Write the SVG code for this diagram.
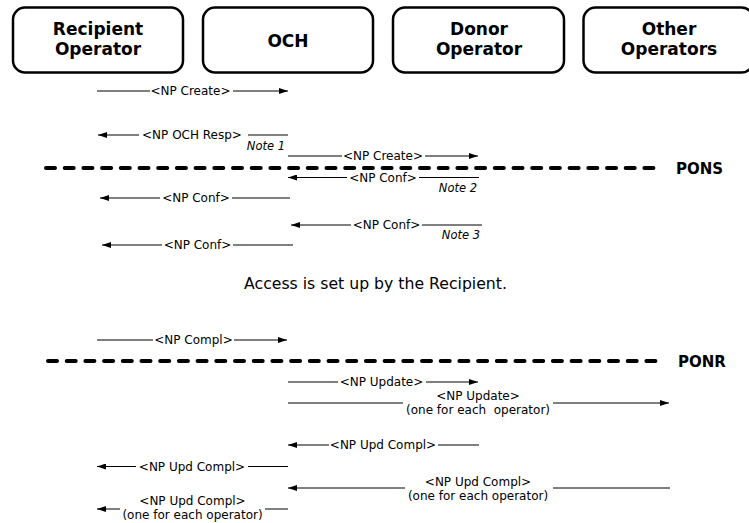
<svg xmlns="http://www.w3.org/2000/svg" width="749" height="523" viewBox="0 0 749 523">
<style>
  .box { fill: #fff; stroke: #000; stroke-width: 2.5; }
  .hdr { font-family: "DejaVu Sans", Verdana, sans-serif; font-weight: bold; font-size: 17px; text-anchor: middle; fill: #000; }
  .msg { stroke: #000; stroke-width: 1; fill: none; }
  .arr { stroke: #000; stroke-width: 1; fill: none; marker-end: url(#ah); }
  .lbl { font-family: "DejaVu Sans", Verdana, sans-serif; font-size: 12px; text-anchor: middle; fill: #000; white-space: pre; }
  .note { font-family: "DejaVu Sans", Verdana, sans-serif; font-size: 11.5px; font-style: italic; text-anchor: end; fill: #000; }
  .mile { stroke: #000; stroke-width: 4; stroke-linecap: round; stroke-dasharray: 9 9.7; fill: none; }
  .mlbl { font-family: "DejaVu Sans", Verdana, sans-serif; font-weight: bold; font-size: 15px; fill: #000; }
  .info { font-family: "DejaVu Sans", Verdana, sans-serif; font-size: 15.7px; text-anchor: middle; fill: #000; }
</style>
<defs>
  <marker id="ah" viewBox="0 0 9 6" refX="9" refY="3" markerWidth="9" markerHeight="6" markerUnits="userSpaceOnUse" orient="auto">
    <path d="M0,0 L9,3 L0,6 z" fill="#000"/>
  </marker>
</defs>
<rect width="749" height="523" fill="#fff"/>

<g id="node-recipient">
  <rect class="box" x="13" y="7.5" width="170" height="65" rx="12"/>
  <text class="hdr" x="98" y="35">Recipient</text>
  <text class="hdr" x="98" y="55">Operator</text>
</g>
<g id="node-och">
  <rect class="box" x="203" y="7.5" width="170" height="65" rx="12"/>
  <text class="hdr" x="288" y="46.5">OCH</text>
</g>
<g id="node-donor">
  <rect class="box" x="393" y="7.5" width="171" height="65" rx="12"/>
  <text class="hdr" x="479" y="35">Donor</text>
  <text class="hdr" x="479" y="55">Operator</text>
</g>
<g id="node-other">
  <rect class="box" x="583.5" y="7.5" width="170" height="65" rx="12"/>
  <text class="hdr" x="669" y="35">Other</text>
  <text class="hdr" x="669" y="55">Operators</text>
</g>

<g id="milestones">
  <line class="mile" x1="46" y1="168" x2="655" y2="168"/>
  <text class="mlbl" x="676" y="173.5">PONS</text>
  <line class="mile" x1="48" y1="361" x2="660" y2="361"/>
  <text class="mlbl" x="678" y="366.5">PONR</text>
  <text class="info" x="375.5" y="289">Access is set up by the Recipient.</text>
</g>

<g id="connectors">
  <!-- M1 -->
  <line class="msg" x1="97" y1="91" x2="150" y2="91"/>
  <text class="lbl" x="190.5" y="95">&lt;NP Create&gt;</text>
  <line class="arr" x1="233" y1="91" x2="288" y2="91"/>
  <!-- M2 -->
  <line class="arr" x1="139" y1="135" x2="98" y2="135"/>
  <text class="lbl" x="192" y="139">&lt;NP OCH Resp&gt;</text>
  <line class="msg" x1="248" y1="135" x2="288" y2="135"/>
  <text class="note" x="285" y="150">Note 1</text>
  <!-- M3 -->
  <line class="msg" x1="288" y1="156" x2="342" y2="156"/>
  <text class="lbl" x="383" y="160">&lt;NP Create&gt;</text>
  <line class="arr" x1="425" y1="156" x2="478" y2="156"/>
  <!-- M4 -->
  <line class="arr" x1="347" y1="177.5" x2="288" y2="177.5"/>
  <text class="lbl" x="383" y="181.5">&lt;NP Conf&gt;</text>
  <line class="msg" x1="419" y1="177.5" x2="479" y2="177.5"/>
  <text class="note" x="477" y="191.5">Note 2</text>
  <!-- M5 -->
  <line class="arr" x1="160" y1="198" x2="100" y2="198"/>
  <text class="lbl" x="196" y="202">&lt;NP Conf&gt;</text>
  <line class="msg" x1="232" y1="198" x2="290" y2="198"/>
  <!-- M6 -->
  <line class="arr" x1="351" y1="225" x2="291" y2="225"/>
  <text class="lbl" x="386.5" y="229">&lt;NP Conf&gt;</text>
  <line class="msg" x1="422" y1="225" x2="482" y2="225"/>
  <text class="note" x="480" y="239">Note 3</text>
  <!-- M7 -->
  <line class="arr" x1="162" y1="245" x2="102" y2="245"/>
  <text class="lbl" x="197.5" y="249">&lt;NP Conf&gt;</text>
  <line class="msg" x1="233" y1="245" x2="293" y2="245"/>
  <!-- M8 -->
  <line class="msg" x1="97" y1="340" x2="153" y2="340"/>
  <text class="lbl" x="193.5" y="344">&lt;NP Compl&gt;</text>
  <line class="arr" x1="234" y1="340" x2="287" y2="340"/>
  <!-- M9 -->
  <line class="msg" x1="288" y1="382" x2="338" y2="382"/>
  <text class="lbl" x="381.5" y="386">&lt;NP Update&gt;</text>
  <line class="arr" x1="426" y1="382" x2="478" y2="382"/>
  <!-- M10 -->
  <line class="msg" x1="288" y1="403" x2="403" y2="403"/>
  <text class="lbl" x="478" y="400">&lt;NP Update&gt;</text>
  <text class="lbl" x="478" y="414">(one for each  operator)</text>
  <line class="arr" x1="553" y1="403" x2="669" y2="403"/>
  <!-- M11 -->
  <line class="arr" x1="329" y1="445" x2="288" y2="445"/>
  <text class="lbl" x="383" y="449">&lt;NP Upd Compl&gt;</text>
  <line class="msg" x1="438" y1="445" x2="479" y2="445"/>
  <!-- M12 -->
  <line class="arr" x1="136" y1="466.5" x2="97" y2="466.5"/>
  <text class="lbl" x="192" y="470.5">&lt;NP Upd Compl&gt;</text>
  <line class="msg" x1="248" y1="466.5" x2="288" y2="466.5"/>
  <!-- M13 -->
  <line class="arr" x1="405" y1="488" x2="288" y2="488"/>
  <text class="lbl" x="478" y="485.5">&lt;NP Upd Compl&gt;</text>
  <text class="lbl" x="478" y="499.5">(one for each operator)</text>
  <line class="msg" x1="553" y1="488" x2="670" y2="488"/>
  <!-- M14 -->
  <line class="arr" x1="120" y1="509" x2="97" y2="509"/>
  <text class="lbl" x="192.5" y="504.5">&lt;NP Upd Compl&gt;</text>
  <text class="lbl" x="192.5" y="518.5">(one for each operator)</text>
  <line class="msg" x1="265" y1="509" x2="288" y2="509"/>
</g>
</svg>
